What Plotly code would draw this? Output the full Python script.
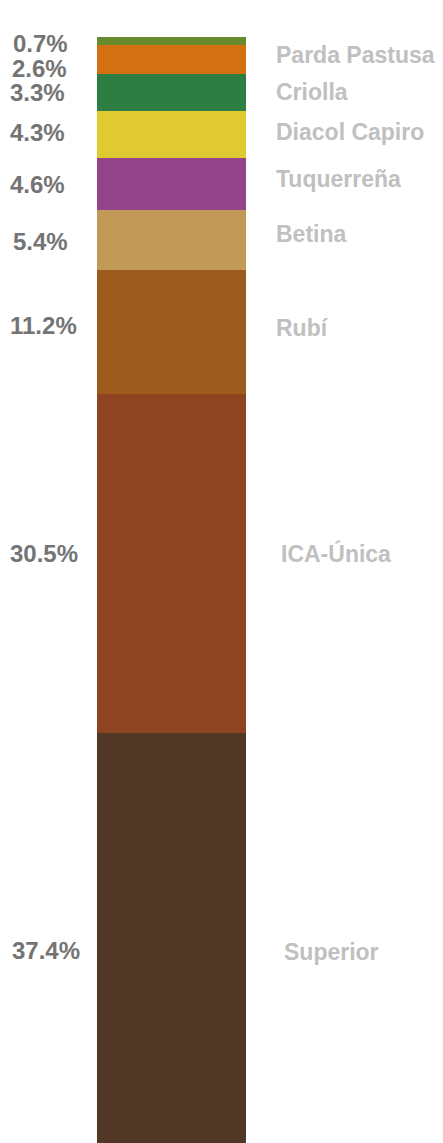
import plotly.graph_objects as go

# Data (bottom of the stack first)
varieties = ["Superior", "ICA-Única", "Rubí", "Betina", "Tuquerreña",
             "Diacol Capiro", "Criolla", "Parda Pastusa", ""]
shares = [37.4, 30.5, 11.2, 5.4, 4.6, 4.3, 3.3, 2.6, 0.7]
pct_labels = ["37.4%", "30.5%", "11.2%", "5.4%", "4.6%", "4.3%", "3.3%", "2.6%", "0.7%"]
colors = ["#513826", "#8e4321", "#9d5b1d", "#c29a58", "#93448b",
          "#dfca32", "#2c7e42", "#d27012", "#678a2f"]

# Label placement tweaks (pixels, in window coordinates)
pct_xc = [46, 43.5, 43.5, 40.5, 37.5, 37.5, 37.5, 39.5, 40]
pct_yshift = [-9.7, 10, 6, -2, -0.5, 2, -0.7, -8.5, -2.3]
name_x = [283, 280, 275, 275, 275, 275, 275, 275, 275]
name_yshift = [-11, 10, 3.7, 5.5, 4.5, 3, 0, 5, 0]

OFF = 8  # page body margin
W, H = 443 - OFF, 1143 - OFF
FONT = "Liberation Sans, Arial, sans-serif"

fig = go.Figure()
for v, s, c in zip(varieties, shares, colors):
    fig.add_trace(go.Bar(x=[0], y=[s], name=v or "Otras", marker=dict(color=c, line=dict(width=0)),
                         width=1, showlegend=False, hoverinfo="skip"))

annotations = []
cum = 0
for i, s in enumerate(shares):
    center = cum + s / 2
    cum += s
    annotations.append(dict(x=(pct_xc[i] - OFF) / W, xref="paper", y=center, yref="y",
                            text=pct_labels[i], showarrow=False, xanchor="center", yanchor="middle",
                            yshift=pct_yshift[i],
                            font=dict(family=FONT, size=24, color="#747474", weight="bold")))
    if varieties[i]:
        annotations.append(dict(x=(name_x[i] - OFF) / W, xref="paper", y=center, yref="y",
                                text=varieties[i], showarrow=False, xanchor="left", yanchor="middle",
                                yshift=name_yshift[i], xshift=-1,
                                font=dict(family=FONT, size=23, color="#c0c0c0", weight="bold")))

px_per_unit = 149.0
x0 = -0.5 - (97 - OFF) / px_per_unit
ppu_y = 11.11
top_px = 37.3 - OFF
bottom_px = top_px + 100 * ppu_y
y_max = 100 + top_px / ppu_y
y_min = (bottom_px - H) / ppu_y

fig.update_layout(
    barmode="stack",
    width=W, height=H,
    margin=dict(l=0, r=0, t=0, b=0),
    paper_bgcolor="white", plot_bgcolor="white",
    xaxis=dict(range=[x0, x0 + W / px_per_unit], visible=False, fixedrange=True),
    yaxis=dict(range=[y_min, y_max], visible=False, fixedrange=True),
    annotations=annotations,
    bargap=0,
)

fig.write_html("out.html")
